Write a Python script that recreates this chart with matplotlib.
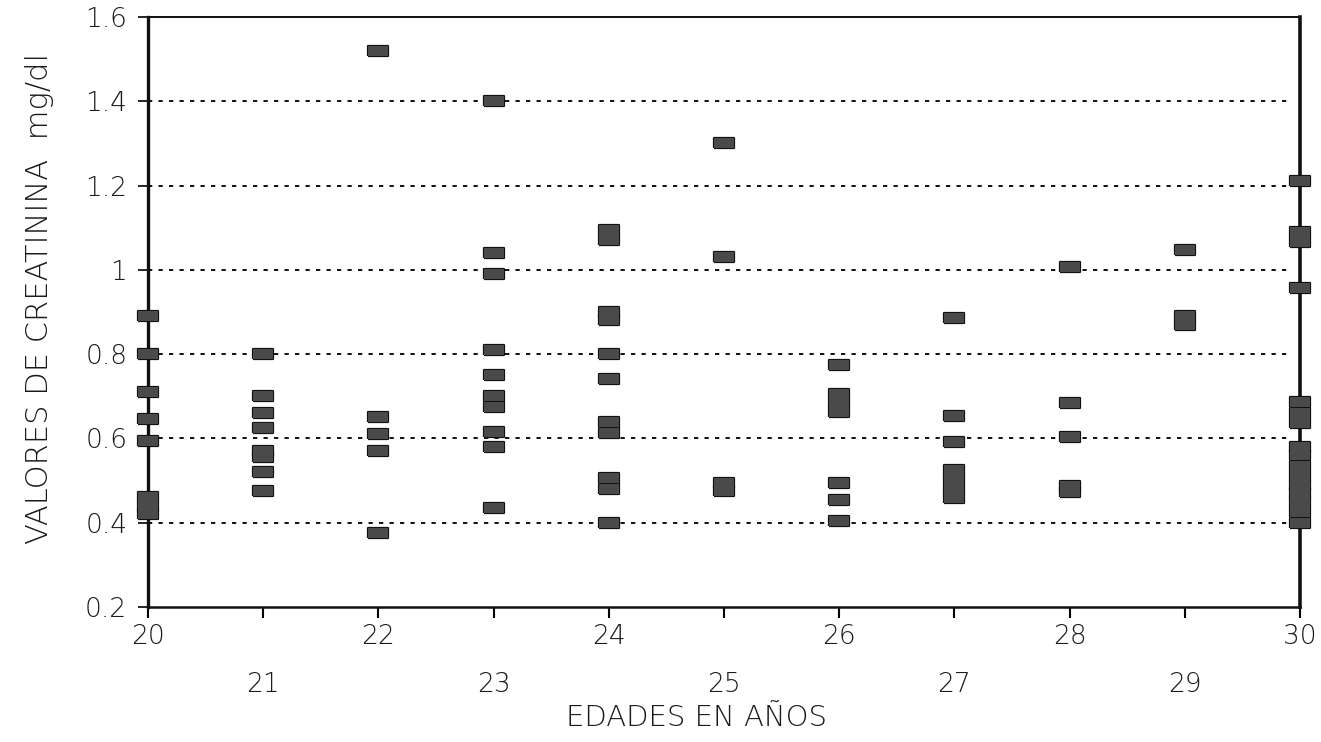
import matplotlib
matplotlib.use("Agg")
import matplotlib.pyplot as plt
from matplotlib.ticker import FixedLocator

# Creatinine values (mg/dl) recorded at each age (years)
edades = [20, 21, 22, 23, 24, 25, 26, 27, 28, 29, 30]
creatinina = [
    [0.89, 0.80, 0.71, 0.645, 0.595, 0.46, 0.44, 0.42],                      # 20
    [0.80, 0.70, 0.66, 0.625, 0.57, 0.555, 0.52, 0.475],                     # 21
    [1.52, 0.65, 0.61, 0.57, 0.375],                                          # 22
    [1.40, 1.04, 0.99, 0.81, 0.75, 0.70, 0.675, 0.615, 0.58, 0.435],          # 23
    [1.095, 1.07, 0.90, 0.88, 0.80, 0.74, 0.64, 0.612, 0.505, 0.48, 0.40],    # 24
    [1.30, 1.03, 0.495, 0.475],                                               # 25
    [0.775, 0.705, 0.685, 0.663, 0.495, 0.455, 0.403],                        # 26
    [0.886, 0.653, 0.591, 0.526, 0.504, 0.481, 0.459],                        # 27
    [1.007, 0.684, 0.604, 0.488, 0.473],                                      # 28
    [1.047, 0.89, 0.868],                                                     # 29
    [1.21, 1.09, 1.065, 0.956, 0.687, 0.66, 0.637,
     0.58, 0.56, 0.535, 0.51, 0.49, 0.47, 0.45, 0.425, 0.40],                 # 30
]

y_ticks = [0.2, 0.4, 0.6, 0.8, 1.0, 1.2, 1.4, 1.6]
y_tick_labels = ["0.2", "0.4", "0.6", "0.8", "1", "1.2", "1.4", "1.6"]
x_ticks_top_row = [20, 22, 24, 26, 28, 30]
x_ticks_bottom_row = [21, 23, 25, 27, 29]

FONT = dict(family="DejaVu Sans", fontweight="light", color="#1a1a1a")

fig = plt.figure(figsize=(13.21, 7.42), dpi=100)
ax = fig.add_axes([148 / 1321, 1 - 607 / 742, (1300 - 148) / 1321, (607 - 17) / 742])

# flat rectangular marker, wider than tall
rect = [(-1.0, -0.5), (1.0, -0.5), (1.0, 0.5), (-1.0, 0.5), (-1.0, -0.5)]

for edad, valores in zip(edades, creatinina):
    xs = [edad] * len(valores)
    # dark outline pass, then a fill pass so coincident marks merge into blocks
    ax.plot(xs, valores, linestyle="none", marker=rect, markersize=15,
            markerfacecolor="#111111", markeredgecolor="#111111",
            markeredgewidth=1.6, clip_on=False, zorder=3)
    ax.plot(xs, valores, linestyle="none", marker=rect, markersize=15,
            markerfacecolor="#4a4a4a", markeredgewidth=0, clip_on=False, zorder=4)

ax.set_xlim(20, 30)
ax.set_ylim(0.2, 1.6)

# dotted horizontal guides
for v in y_ticks[1:-1]:
    ax.axhline(v, xmax=0.992, color="#111111", linewidth=1.4,
               linestyle=(0, (2.2, 3.2)), zorder=1)

ax.set_yticks(y_ticks)
ax.set_yticklabels(y_tick_labels, fontsize=19, **FONT)

ax.xaxis.set_major_locator(FixedLocator(x_ticks_top_row))
ax.xaxis.set_minor_locator(FixedLocator(x_ticks_bottom_row))
ax.set_xticklabels([str(v) for v in x_ticks_top_row], fontsize=19, **FONT)
ax.set_xticklabels([str(v) for v in x_ticks_bottom_row], minor=True, fontsize=19, **FONT)

ax.tick_params(axis="x", which="major", direction="out", length=8, width=1.5, pad=4)
ax.tick_params(axis="x", which="minor", direction="out", length=8, width=1.5, pad=39)
ax.tick_params(axis="y", direction="out", length=7, width=1.2, pad=8)

for side, lw in (("left", 2.4), ("bottom", 1.8), ("top", 1.4), ("right", 2.6)):
    ax.spines[side].set_linewidth(lw)
    ax.spines[side].set_color("#111111")

fig.text(40 / 1321, 1 - 298 / 742, "VALORES DE CREATININA  mg/dl", rotation=90,
         ha="center", va="center", fontsize=22, **FONT)
fig.text(697 / 1321, 1 - 718 / 742, "EDADES EN AÑOS", ha="center", va="center",
         fontsize=21, **FONT)

fig.savefig("out.png", dpi=100, facecolor="white")
